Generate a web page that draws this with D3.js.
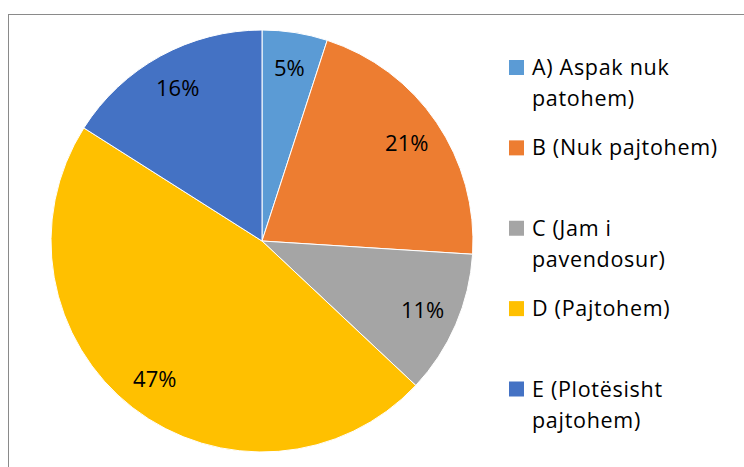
<!DOCTYPE html>
<html>
<head>
<meta charset="utf-8">
<script src="https://cdn.jsdelivr.net/npm/d3@7"></script>
<style>
    body { margin: 0; background: #fff; }
    text { font-family: "Open Sans", Lato, sans-serif; fill: #000; }
</style>
</head>
<body>
<div id="pieChart"></div>
<script>
// Pie chart data
var categories = ["A) Aspak nuk patohem)", "B (Nuk pajtohem)", "C (Jam i pavendosur)", "D (Pajtohem)", "E (Plotësisht pajtohem)"];
var legendLines = [["A) Aspak nuk", "patohem)"], ["B (Nuk pajtohem)"], ["C (Jam i", "pavendosur)"], ["D (Pajtohem)"], ["E (Plotësisht", "pajtohem)"]];
var values = [5, 21, 11, 47, 16];
var colors = ["#5B9BD5", "#ED7D31", "#A5A5A5", "#FFC000", "#4472C4"];

var svgWidth = 744;
var svgHeight = 467;

var svg = d3.select("#pieChart")
    .append("svg")
    .attr("width", svgWidth)
    .attr("height", svgHeight);

// chart border
svg.append("rect")
    .attr("x", 8.5)
    .attr("y", 14.5)
    .attr("width", 800)
    .attr("height", 500)
    .attr("fill", "none")
    .attr("stroke", "#8a8a8a")
    .attr("stroke-width", 1);

var radius = 211;
var pieGroup = svg.append("g")
    .attr("transform", "translate(262, 241)");

var pie = d3.pie().sort(null).value(d => d);
var arcs = pie(values);

var arc = d3.arc().innerRadius(0).outerRadius(radius);
var labelArc = d3.arc().innerRadius(175).outerRadius(175);

pieGroup.selectAll("path")
    .data(arcs)
    .enter()
    .append("path")
    .attr("d", arc)
    .attr("fill", (d, i) => colors[i])
    .attr("stroke", "#fff")
    .attr("stroke-width", 1);

pieGroup.selectAll(".sliceLabel")
    .data(arcs)
    .enter()
    .append("text")
    .attr("class", "sliceLabel")
    .attr("transform", d => `translate(${labelArc.centroid(d)})`)
    .attr("text-anchor", "middle")
    .attr("dy", "0.36em")
    .attr("font-size", "22px")
    .text(d => d.data + "%");

// Legend
var legendY = d3.scaleLinear().domain([0, 4]).range([75, 396.5]);

var legend = svg.append("g").selectAll("g")
    .data(categories)
    .enter()
    .append("g")
    .attr("transform", (d, i) => `translate(509, ${legendY(i)})`);

legend.append("rect")
    .attr("x", 0)
    .attr("y", -15)
    .attr("width", 15)
    .attr("height", 15)
    .attr("fill", (d, i) => colors[i]);

legend.append("text")
    .attr("font-size", "21.5px")
    .attr("letter-spacing", "0.7px")
    .selectAll("tspan")
    .data((d, i) => legendLines[i])
    .enter()
    .append("tspan")
    .attr("x", 23)
    .attr("dy", (d, j) => j === 0 ? 0 : 31)
    .text(d => d);
</script>
</body>
</html>
